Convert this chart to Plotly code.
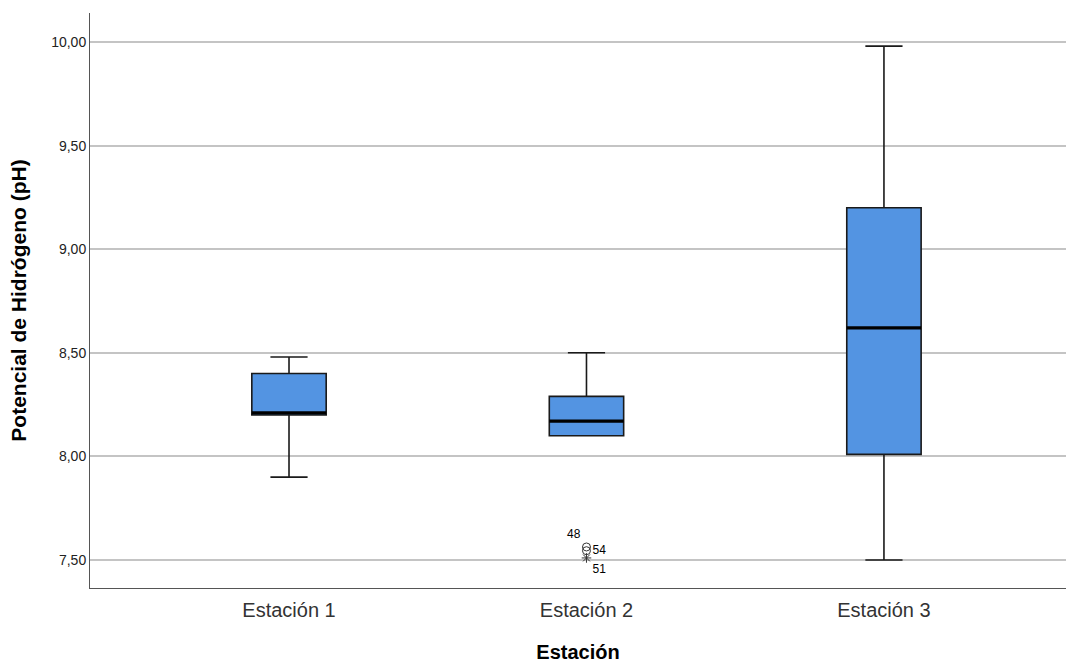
import plotly.graph_objects as go

categories = ["Estación 1", "Estación 2", "Estación 3"]
q1 = [8.20, 8.10, 8.01]
median = [8.21, 8.17, 8.62]
q3 = [8.40, 8.29, 9.20]
lowerfence = [7.90, 8.10, 7.50]
upperfence = [8.48, 8.50, 9.98]

outlier_station = [1, 1, 1]
outlier_values = [7.563, 7.545, 7.51]
outlier_ids = ["48", "54", "51"]
outlier_symbols = ["circle-open", "circle-open", "asterisk-open"]
outlier_textpos = ["top left", "middle right", "bottom right"]

positions = list(range(len(categories)))
box_w = 0.25
fill = "rgb(83,148,226)"
font = "Liberation Sans, Arial, sans-serif"

fig = go.Figure()
fig.add_trace(go.Box(
    x=positions, q1=q1, median=median, q3=q3,
    lowerfence=lowerfence, upperfence=upperfence,
    width=box_w, whiskerwidth=0.5,
    fillcolor=fill, line=dict(color="#1a1a1a", width=1.6),
    boxpoints=False, showlegend=False, hoverinfo="skip"
))

# thick median bars
for p, m in zip(positions, median):
    fig.add_trace(go.Scatter(
        x=[p - box_w / 2, p + box_w / 2], y=[m, m], mode="lines",
        line=dict(color="black", width=3.2), showlegend=False, hoverinfo="skip"
    ))

for s, v, t, sym, tp in zip(outlier_station, outlier_values, outlier_ids, outlier_symbols, outlier_textpos):
    fig.add_trace(go.Scatter(
        x=[s], y=[v], mode="markers+text", text=[t], textposition=tp,
        marker=dict(symbol=sym, size=8, color="#333333", line=dict(width=1, color="#333333")),
        textfont=dict(family=font, size=12, color="black"),
        showlegend=False, hoverinfo="skip"
    ))

fig.update_layout(
    width=1067, height=663,
    margin=dict(l=90, r=1, t=13, b=75),
    plot_bgcolor="white", paper_bgcolor="white",
    font=dict(family=font, color="#222222"),
)
fig.update_xaxes(
    range=[-0.669, 2.612], tickmode="array", tickvals=positions, ticktext=categories,
    showgrid=False, zeroline=False, showline=True, linecolor="#555555", linewidth=1,
    ticks="", tickfont=dict(size=20, color="#333333"), ticklabelstandoff=4,
    automargin=False,
    title=dict(text="<b>Estación</b>", font=dict(size=20, color="black"), standoff=26),
)
fig.update_yaxes(
    range=[7.365, 10.14], tickmode="array",
    tickvals=[7.5, 8.0, 8.5, 9.0, 9.5, 10.0],
    ticktext=["7,50", "8,00", "8,50", "9,00", "9,50", "10,00"],
    showgrid=True, gridcolor="#c4c4c4", gridwidth=1.5, zeroline=False,
    showline=True, linecolor="#555555", linewidth=1,
    ticks="", tickfont=dict(size=14, color="#222222"),
    automargin=False,
    title=dict(text="<b>Potencial de Hidrógeno (pH)</b>", font=dict(size=21, color="black"), standoff=18),
)

fig.write_html(
    "out.html",
    config={"displayModeBar": False},
    post_script="document.body.style.margin='0';document.body.style.overflow='hidden';",
)
